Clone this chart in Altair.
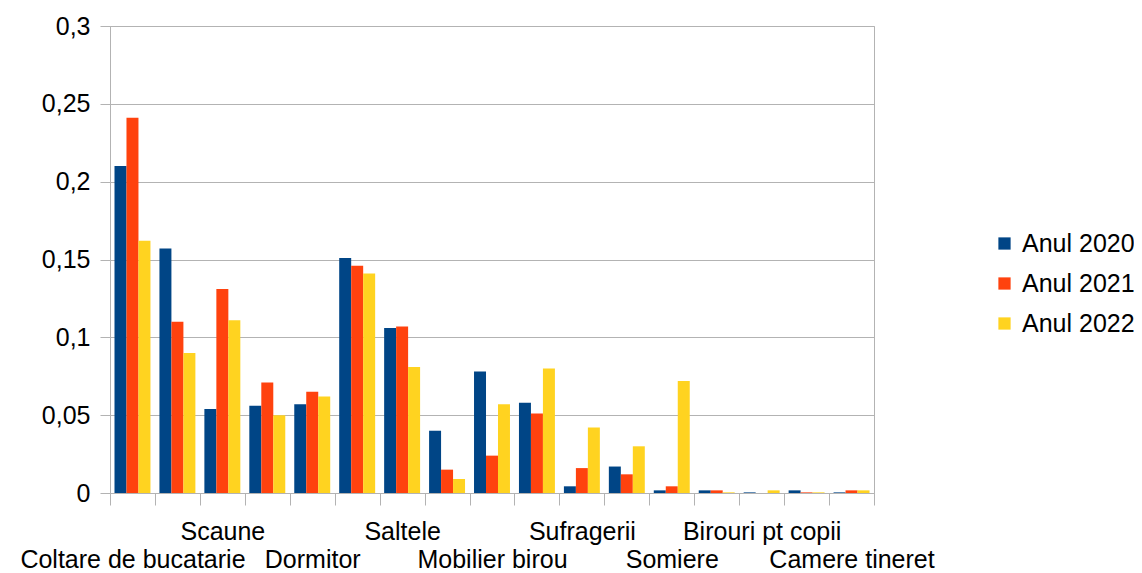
import altair as alt
import pandas as pd

labels = ["Coltare de bucatarie", "", "Scaune", "", "Dormitor", "", "Saltele", "",
          "Mobilier birou", "", "Sufragerii", "", "Somiere", "", "Birouri pt copii", "",
          "Camere tineret"]
series = ["Anul 2020", "Anul 2021", "Anul 2022"]
v2020 = [0.210, 0.157, 0.054, 0.056, 0.057, 0.151, 0.106, 0.040, 0.078, 0.058,
         0.0043, 0.017, 0.0017, 0.0017, 0.0004, 0.0017, 0.0004]
v2021 = [0.241, 0.110, 0.131, 0.071, 0.065, 0.146, 0.107, 0.015, 0.024, 0.051,
         0.016, 0.012, 0.0043, 0.0017, 0.0, 0.0004, 0.0017]
v2022 = [0.162, 0.090, 0.111, 0.050, 0.062, 0.141, 0.081, 0.009, 0.057, 0.080,
         0.042, 0.030, 0.072, 0.0004, 0.0017, 0.0004, 0.0017]
colors = ["#004586", "#ff420e", "#ffd320"]

rows = []
for s, vals in zip(series, [v2020, v2021, v2022]):
    for i, v in enumerate(vals):
        rows.append({"grp": i, "serie": s, "val": v})
df = pd.DataFrame(rows)

# multi-line label arrays: alternate rows like the reference
lab_js = []
for i, l in enumerate(labels):
    if l == "":
        lab_js.append("['']")
    elif (i // 2) % 2 == 0:
        lab_js.append("['', '%s']" % l)
    else:
        lab_js.append("['%s']" % l)
label_expr = "[" + ", ".join(lab_js) + "][datum.value]"

FONT = "Liberation Sans"
GRID = "#b3b3b3"

chart = alt.Chart(df).mark_bar().encode(
    x=alt.X("grp:O", sort=list(range(len(labels))),
            scale=alt.Scale(paddingInner=0, paddingOuter=0),
            axis=alt.Axis(title=None, labelExpr=label_expr, labelAngle=0,
                          labelOverlap=False, labelBaseline="top", labelLineHeight=28,
                          labelPadding=14, tickSize=12, tickBand="extent",
                          tickColor=GRID, domainColor=GRID, labelFontSize=25,
                          labelFont=FONT, labelColor="#000000", labelLimit=0)),
    xOffset=alt.XOffset("serie:N", sort=series,
                        scale=alt.Scale(paddingInner=0, paddingOuter=0.375)),
    y=alt.Y("val:Q", scale=alt.Scale(domain=[0, 0.3], nice=False),
            axis=alt.Axis(title=None, values=[0, 0.05, 0.1, 0.15, 0.2, 0.25, 0.3],
                          labelExpr="replace(format(datum.value, '.2~f'), '.', ',')",
                          tickSize=10, labelPadding=10, tickColor=GRID, domainColor=GRID,
                          gridColor=GRID, labelFontSize=25, labelFont=FONT,
                          labelColor="#000000")),
    color=alt.Color("serie:N", sort=series,
                    scale=alt.Scale(domain=series, range=colors),
                    legend=alt.Legend(title=None, orient="none", legendX=882, legendY=205,
                                      symbolType="square", symbolSize=150,
                                      symbolStrokeWidth=0, labelFontSize=25, labelFont=FONT,
                                      labelColor="#000000", rowPadding=14,
                                      labelOffset=5)),
).properties(
    width=764, height=467,
    autosize=alt.AutoSizeParams(type="none"),
    padding={"left": 102, "top": 18, "right": 260, "bottom": 80},
).configure_view(stroke=GRID, strokeWidth=1).configure_axis(gridWidth=1)

chart.save("out.html", embed_options={"renderer": "svg", "actions": False})
